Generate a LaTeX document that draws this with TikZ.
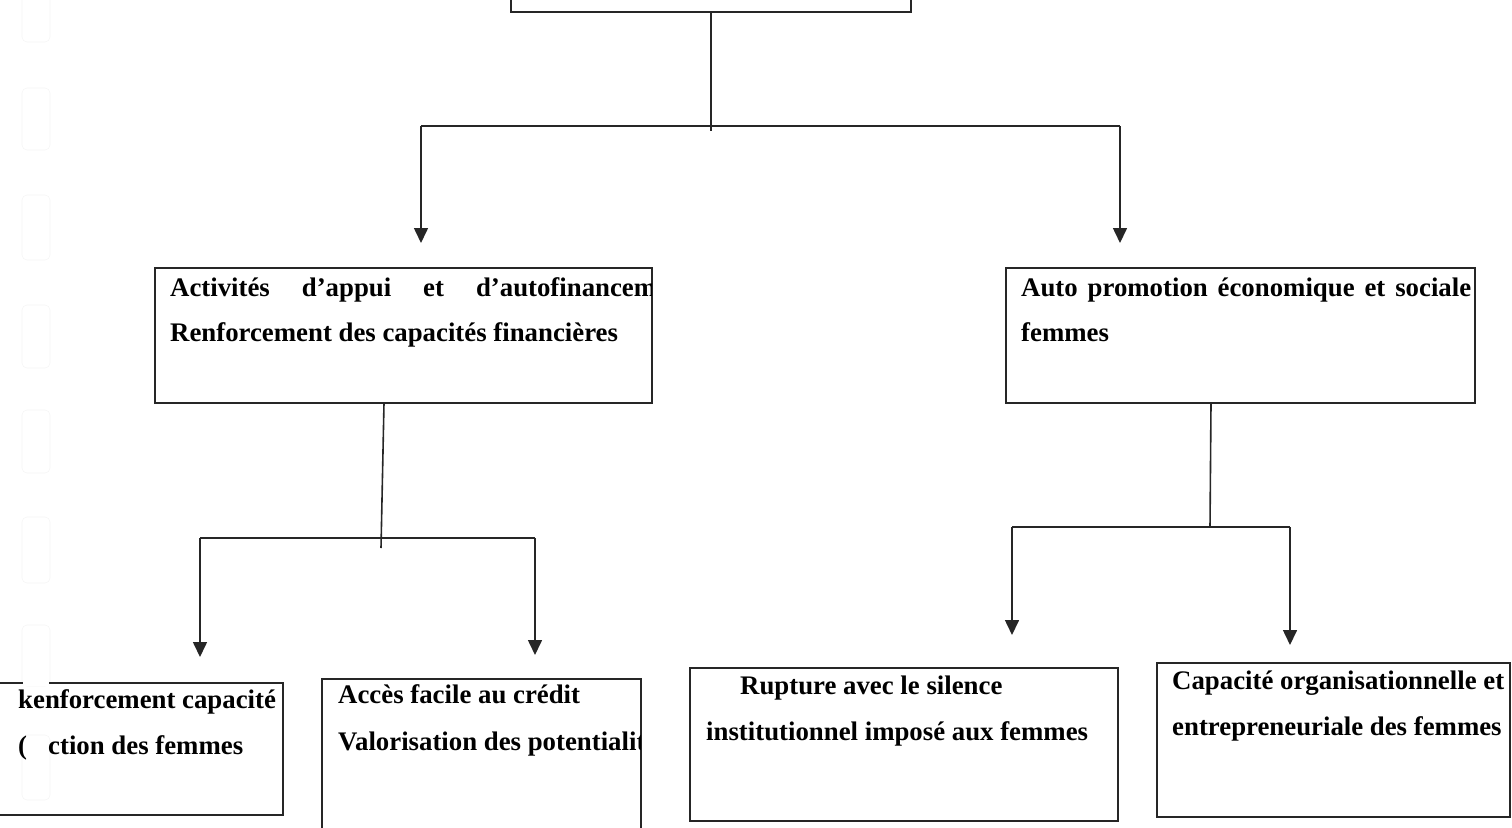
\documentclass[tikz,border=0pt]{standalone}
\usepackage{fontspec}
\setmainfont{Liberation Serif}
\usetikzlibrary{arrows.meta}
\begin{document}
\begin{tikzpicture}[x=1pt,y=-1pt,
  box/.style={draw=black!85, line width=1.2pt, inner sep=0pt, fill=none},
  conn/.style={draw=black!85, line width=1.6pt},
  arr/.style={conn, -{Triangle[length=15pt,width=14pt]}},
  txt/.style={anchor=base west, inner sep=0pt, font=\fontsize{26.8}{30}\selectfont\bfseries},
  hole/.style={draw=black!4, line width=0.6pt, rounded corners=5pt}]
\useasboundingbox (0,0) rectangle (1512,827);
% faint binding holes
\foreach \ya/\yb [count=\i] in {-10/42, 88/150, 195/260, 305/368, 410/473, 517/583, 625/686, 735/800}
  \draw[hole] (22,\ya) rectangle (50,\yb);
% boxes
\node[box, minimum width=400pt, minimum height=52pt] (top) at (711,-14) {};
\node[box, minimum width=497pt, minimum height=135pt] (L1) at (403.5,335.5) {};
\node[box, minimum width=469pt, minimum height=135pt] (R1) at (1240.5,335.5) {};
\node[box, minimum width=286pt, minimum height=132pt] (B1) at (140,749) {};
\node[box, minimum width=319pt, minimum height=156pt] (B2) at (481.5,757) {};
\node[box, minimum width=428pt, minimum height=153pt] (B3) at (904,744.5) {};
\node[box, minimum width=353pt, minimum height=154pt] (B4) at (1333.5,740) {};
% gap of the hole in B1's top line
\fill[white] (23,680) rectangle (49,686);
% connector points
\coordinate (jT) at (711,131);
\coordinate (hL) at (421,126);
\coordinate (hR) at (1120,126);
\coordinate (tL) at (421,243);
\coordinate (tR) at (1120,243);
\coordinate (l1s) at (384,403);
\coordinate (jL) at (381,548);
\coordinate (hLL) at (200,538);
\coordinate (hLR) at (535,538);
\coordinate (tLL) at (200,657);
\coordinate (tLR) at (535,655);
\coordinate (r1s) at (1211,403);
\coordinate (jR) at (1210,527);
\coordinate (hRL) at (1012,527);
\coordinate (hRR) at (1290,527);
\coordinate (tRL) at (1012,635);
\coordinate (tRR) at (1290,645);
% connectors
\draw[conn] (top.south) -- (jT);
\draw[conn] (hL) -- (hR);
\draw[arr] (hL) -- (tL);
\draw[arr] (hR) -- (tR);
\draw[conn] (l1s) -- (jL);
\draw[conn] (hLL) -- (hLR);
\draw[arr] (hLL) -- (tLL);
\draw[arr] (hLR) -- (tLR);
\draw[conn] (r1s) -- (jR);
\draw[conn] (hRL) -- (hRR);
\draw[arr] (hRL) -- (tRL);
\draw[arr] (hRR) -- (tRR);
% texts
\begin{scope}
  \clip (155,268) rectangle (651,403);
  \node[txt] (l1a) at (170,296) {\hbox to 486pt{Activités\hfill d’appui\hfill et\hfill d’autofinancem}};
\end{scope}
\node[txt] (l1b) at (170,341) {Renforcement des capacités financières};
\node[txt] (r1a) at (1021,296) {\hbox to 450pt{Auto\hfill promotion\hfill économique\hfill et\hfill sociale}};
\node[txt] (r1b) at (1021,341) {femmes};
\node[txt] (b1a) at (18,708) {kenforcement capacité};
\node[txt] (b1b) at (18,754) {(};
\node[txt] (b1c) at (48,754) {ction des femmes};
\begin{scope}
  \clip (322,679) rectangle (640,827);
  \node[txt] (b2a) at (338,703) {Accès facile au crédit};
  \node[txt] (b2b) at (338,750) {Valorisation des potentialit};
\end{scope}
\node[txt] (b3a) at (740,694) {Rupture avec le silence};
\node[txt] (b3b) at (706,740) {institutionnel imposé aux femmes};
\node[txt] (b4a) at (1172,689) {Capacité organisationnelle et};
\node[txt] (b4b) at (1172,735) {entrepreneuriale des femmes};
\end{tikzpicture}
\end{document}
